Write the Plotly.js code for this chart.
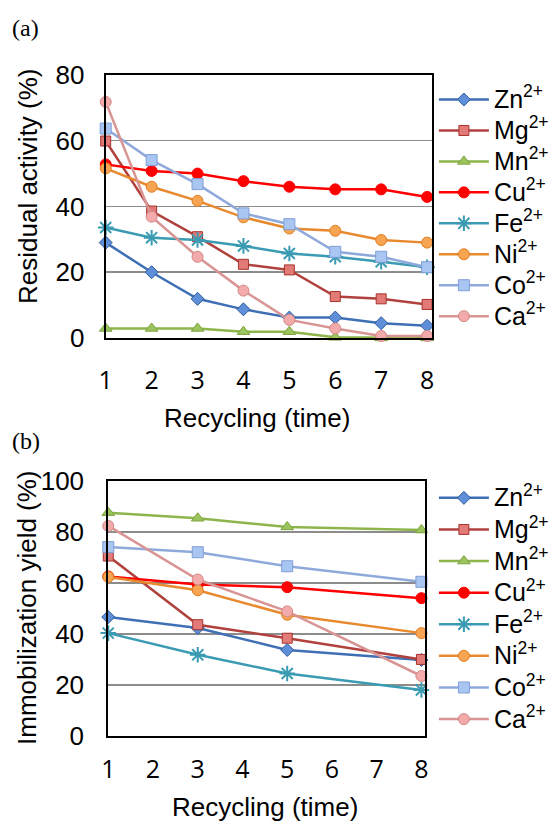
<!DOCTYPE html>
<html><head><meta charset="utf-8">
<script src="https://cdn.plot.ly/plotly-3.0.1.min.js"></script>
<style>html,body{margin:0;padding:0;background:#fff}#c{width:557px;height:832px}</style>
</head><body><div id="c"></div>
<script>
const ions = ['Zn','Mg','Mn','Cu','Fe','Ni','Co','Ca'];
const charge = '2+';
const cyclesA = [1,2,3,4,5,6,7,8];
const residualZn = [29,20,11.9,8.7,6.2,6.2,4.5,3.7];
const residualMg = [59.9,38.6,30.8,22.4,20.7,12.6,11.9,10.2];
const residualMn = [2.9,2.9,2.9,1.9,1.9,0.2,0,0];
const residualCu = [52.8,50.8,50,47.7,46,45.2,45.2,42.9];
const residualFe = [33.6,30.5,29.8,28,25.7,24.7,23.2,21.5];
const residualNi = [51.6,46,41.7,36.7,33.3,32.6,29.8,29];
const residualCo = [63.7,54.1,46.8,37.9,34.6,26.2,24.7,21.5];
const residualCa = [71.8,36.9,24.7,14.4,5.5,2.9,0.6,0.6];
const cyclesB = [1,3,5,8];
const yieldZn = [46.6,42.3,33.7,29.8];
const yieldMg = [70.5,43.6,38.3,30];
const yieldMn = [87.5,85.3,81.9,80.7];
const yieldCu = [62.5,59.3,58.3,54];
const yieldFe = [40.3,31.8,24.5,18];
const yieldNi = [62.3,57.1,47.5,40.3];
const yieldCo = [74,72,66.5,60.4];
const yieldCa = [82.3,61.3,48.8,23.5];
const xTicks = [1,2,3,4,5,6,7,8];

const styles = [
  {line:'#3f6fb5', fill:'#5f8fd8', edge:'#2f5d9e', symbol:'diamond', size:10},
  {line:'#b1413d', fill:'#e27b77', edge:'#a8322e', symbol:'square', size:10},
  {line:'#8db54c', fill:'#9cc45e', edge:'#7fa43e', symbol:'triangle-up', size:11},
  {line:'#ff0000', fill:'#ff0000', edge:'#ff0000', symbol:'circle', size:11},
  {line:'#3a9bb3', fill:'#3a9bb3', edge:'#3a9bb3', symbol:'asterisk-open', size:13},
  {line:'#e8892e', fill:'#f7a552', edge:'#e07d1e', symbol:'circle', size:11},
  {line:'#8fa9da', fill:'#a9c5f2', edge:'#7f9fd6', symbol:'square', size:11},
  {line:'#d99594', fill:'#f2aaaa', edge:'#d18886', symbol:'circle', size:11}
];
const seriesA = [residualZn,residualMg,residualMn,residualCu,residualFe,residualNi,residualCo,residualCa];
const seriesB = [yieldZn,yieldMg,yieldMn,yieldCu,yieldFe,yieldNi,yieldCo,yieldCa];
const label = n => '<span style="font-size:25px">' + n + '<sup>' + charge + '</sup></span>';

const traces = [];
function addSeries(xs, list, xa, ya, lg){
  list.forEach((ys,i)=>{
    const s = styles[i];
    traces.push({x:xs, y:ys, name:label(ions[i]), type:'scatter', mode:'lines+markers', xaxis:xa, yaxis:ya, legend:lg, cliponaxis:false,
      line:{color:s.line, width:2.5},
      marker:{symbol:s.symbol, size:s.size, color:s.fill, line:{color:s.edge, width: s.symbol==='asterisk-open'?2:1}}});
  });
}
addSeries(cyclesA, seriesA, 'x', 'y', 'legend');
addSeries(cyclesB, seriesB, 'x2', 'y2', 'legend2');

const F = 'Liberation Sans, Arial, sans-serif';
const FX = 'Open Sans, sans-serif';
const axX = (dom, anchor, range, so)=>({domain:dom, anchor:anchor, range:range, tickvals:xTicks, showgrid:false, zeroline:false,
  showline:true, mirror:true, linecolor:'#000', linewidth:2, ticks:'', tickfont:{family:FX,size:25,color:'#000'}, ticklabelstandoff:so});
const axY = (dom, anchor, range, dt, so)=>({domain:dom, anchor:anchor, range:range, dtick:dt, showgrid:true, gridcolor:'#8c8c8c', gridwidth:1.5, zeroline:false,
  showline:true, mirror:true, linecolor:'#000', linewidth:2, ticks:'', tickfont:{family:F,size:26,color:'#000'}, ticklabelstandoff:so});
const ann = (text, px, py, opts)=>Object.assign({text:text, x:px/557, y:1-py/832, xref:'paper', yref:'paper', xanchor:'center', yanchor:'middle', showarrow:false, font:{family:F,size:26,color:'#000'}}, opts||{});
const serif = {family:'Liberation Serif, Times New Roman, serif', size:24, color:'#000'};

const layout = {
  width:557, height:832, margin:{l:0,r:0,t:0,b:0}, paper_bgcolor:'#fff', plot_bgcolor:'#fff',
  xaxis: axX([0.1898,0.775],'y',[1,8.1],19),
  yaxis: axY([0.5938,0.9099],'x',[0,80],20,14),
  xaxis2: axX([0.1944,0.763],'y2',[1,8.08],10),
  yaxis2: axY([0.1154,0.4222],'x2',[0,100],20,17),
  legend:{x:0.779, y:0.905, xanchor:'left', yanchor:'top', bgcolor:'rgba(0,0,0,0)', font:{family:F,size:21.5,color:'#000'}, itemwidth:50, tracegroupgap:0},
  legend2:{x:0.779, y:0.4266, xanchor:'left', yanchor:'top', bgcolor:'rgba(0,0,0,0)', font:{family:F,size:22,color:'#000'}, itemwidth:50, tracegroupgap:0},
  annotations:[
    ann('(a)', 10, 28, {xanchor:'left', font:serif}),
    ann('(b)', 10, 441, {xanchor:'left', font:serif}),
    ann('Residual activity (%)', 28, 186, {textangle:-90}),
    ann('Recycling (time)', 257, 418),
    ann('Immobilization yield (%)', 27, 608, {textangle:-90}),
    ann('Recycling (time)', 265, 807)
  ]
};
Plotly.newPlot('c', traces, layout, {displayModeBar:false, staticPlot:true});
</script></body></html>
